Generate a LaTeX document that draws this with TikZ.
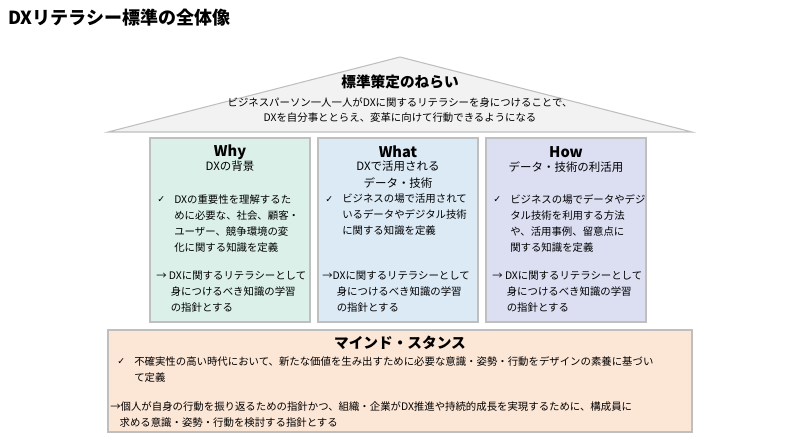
\documentclass[tikz,border=0pt]{standalone}
\usepackage{fontspec}
\setmainfont{Noto Sans CJK JP}
\newfontfamily\symfont{DejaVu Sans}
\usetikzlibrary{positioning}
\definecolor{roofgray}{HTML}{F2F2F2}
\definecolor{linegray}{HTML}{BFBFBF}
\definecolor{whyfill}{HTML}{DAF0E8}
\definecolor{whatfill}{HTML}{DCEAF6}
\definecolor{howfill}{HTML}{DCDFF2}
\definecolor{mindfill}{HTML}{FCE6D6}
\newcommand{\chk}{{\symfont\fontsize{7}{7}\selectfont ✓}}
\tikzset{
  pillar/.style={draw=linegray, line width=0.8pt},
  head/.style={font=\fontsize{11}{12}\selectfont\bfseries, inner sep=0pt},
  sub/.style={font=\fontsize{8.6}{12.5}\selectfont, inner sep=0pt, align=center},
  body/.style={font=\fontsize{7.8}{12}\selectfont, inner sep=0pt, anchor=north west, align=left},
  tick/.style={inner sep=0pt, anchor=north west}
}
\begin{document}
\begin{tikzpicture}[x=0.75pt, y=-0.75pt]
\useasboundingbox (0,0) rectangle (800,438);
\node[anchor=west, inner sep=0pt, font=\fontsize{13.5}{15}\selectfont\bfseries] (title) at (8,18) {DXリテラシー標準の全体像};

% roof
\draw[pillar, fill=roofgray] (108,132) -- (400,57) -- (692,132) -- cycle;
\node[head] (aim) at (400,82) {標準策定のねらい};
\node[sub, font=\fontsize{7.8}{11.5}\selectfont] (aimtext) at (400,110) {ビジネスパーソン一人一人がDXに関するリテラシーを身につけることで、\\DXを自分事ととらえ、変革に向けて行動できるようになる};

% pillars
\draw[pillar, fill=whyfill] (150,138) rectangle (310,322);
\draw[pillar, fill=whatfill] (318,138) rectangle (478,322);
\draw[pillar, fill=howfill] (486,138) rectangle (646,322);

\node[head] (why) at (230,152) {Why};
\node[sub, anchor=north] (whysub) at (230,161) {DXの背景};
\node[head] (what) at (398,152) {What};
\node[sub, anchor=north] (whatsub) at (398,161) {DXで活用される\\データ・技術};
\node[head] (how) at (566,152) {How};
\node[sub, anchor=north] (howsub) at (566,161) {データ・技術の利活用};

\node[tick] (whychk) at (157,196) {\chk};
\node[body] (whyitem) at (174,194) {DXの重要性を理解するた\\めに必要な、社会、顧客・\\ユーザー、競争環境の変\\化に関する知識を定義};
\node[tick] (whatchk) at (325,196) {\chk};
\node[body] (whatitem) at (342,194) {ビジネスの場で活用されて\\いるデータやデジタル技術\\に関する知識を定義};
\node[tick] (howchk) at (493,196) {\chk};
\node[body] (howitem) at (510,194) {ビジネスの場でデータやデジ\\タル技術を利用する方法\\や、活用事例、留意点に\\関する知識を定義};

\node[body] (whyarr) at (156,271) {→ DXに関するリテラシーとして\\\hspace*{1.4em}身につけるべき知識の学習\\\hspace*{1.4em}の指針とする};
\node[body] (whatarr) at (322,271) {→DXに関するリテラシーとして\\\hspace*{1.4em}身につけるべき知識の学習\\\hspace*{1.4em}の指針とする};
\node[body] (howarr) at (492,271) {→ DXに関するリテラシーとして\\\hspace*{1.4em}身につけるべき知識の学習\\\hspace*{1.4em}の指針とする};

% foundation
\draw[pillar, fill=mindfill] (108,330) rectangle (692,432);
\node[head] (mind) at (400,343) {マインド・スタンス};
\node[tick] (mindchk) at (117,358) {\chk};
\node[body] (minditem) at (134,356) {不確実性の高い時代において、新たな価値を生み出すために必要な意識・姿勢・行動をデザインの素養に基づい\\て定義};
\node[body] (mindarr) at (110,401) {→個人が自身の行動を振り返るための指針かつ、組織・企業がDX推進や持続的成長を実現するために、構成員に\\\hspace*{0.9em}求める意識・姿勢・行動を検討する指針とする};
\end{tikzpicture}
\end{document}
